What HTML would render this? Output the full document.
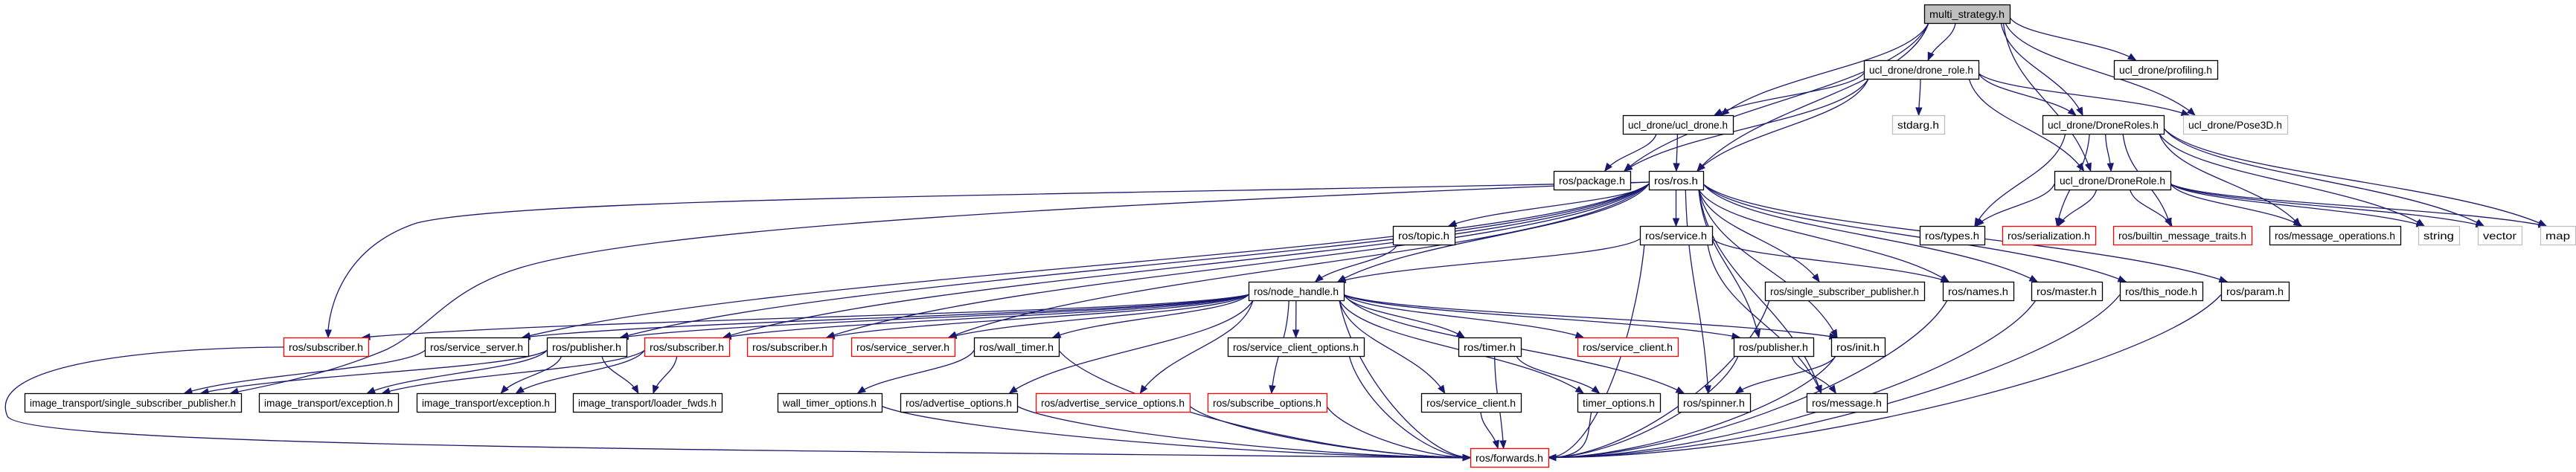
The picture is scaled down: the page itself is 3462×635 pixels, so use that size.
<!DOCTYPE html>
<html><head><meta charset="utf-8"><style>
html,body{margin:0;padding:0;background:#fff;width:3462px;height:635px;overflow:hidden}
svg{display:block}
text{font-family:"Liberation Sans",sans-serif;font-size:14px;fill:#000}
</style></head><body>
<svg id="g" width="3462" height="635" xmlns="http://www.w3.org/2000/svg"></svg>
<script>
var N={
ms:["multi_strategy.h",2586,2701,6,"m"],
dr:["ucl_drone/drone_role.h",2505,2659,81],
prof:["ucl_drone/profiling.h",2841,2980,81],
ud:["ucl_drone/ucl_drone.h",2181,2329,155],
stdarg:["stdarg.h",2543,2613,155,"g"],
drs:["ucl_drone/DroneRoles.h",2745,2908,155],
pose:["ucl_drone/Pose3D.h",2934,3074,155,"g"],
pkg:["ros/package.h",2088,2191,230],
ros:["ros/ros.h",2216,2289,230],
drl:["ucl_drone/DroneRole.h",2761,2917,230],
topic:["ros/topic.h",1872,1955,304],
service:["ros/service.h",2204,2301,304],
types:["ros/types.h",2580,2667,304],
ser:["ros/serialization.h",2691,2816,304,"r"],
bmt:["ros/builtin_message_traits.h",2840,3026,304,"r"],
mop:["ros/message_operations.h",3050,3226,304],
string:["string",3250,3305,304,"g"],
vector:["vector",3330,3389,304,"g"],
map:["map",3414,3461,304,"g"],
nh:["ros/node_handle.h",1678,1806,379],
ssp:["ros/single_subscriber_publisher.h",2372,2586,379],
names:["ros/names.h",2611,2706,379],
master:["ros/master.h",2730,2825,379],
thisn:["ros/this_node.h",2849,2960,379],
param:["ros/param.h",2985,3076,379],
sub1:["ros/subscriber.h",381,495,454,"r"],
ss1:["ros/service_server.h",571,710,454],
pub1:["ros/publisher.h",735,842,454],
sub2:["ros/subscriber.h",866,980,454,"r"],
sub3:["ros/subscriber.h",1004,1119,454,"r"],
ss2:["ros/service_server.h",1144,1283,454,"r"],
wt:["ros/wall_timer.h",1309,1423,454],
sco:["ros/service_client_options.h",1650,1833,454],
timer:["ros/timer.h",1960,2044,454],
sc2:["ros/service_client.h",2120,2255,454,"r"],
pub2:["ros/publisher.h",2330,2437,454],
init:["ros/init.h",2461,2533,454],
itssp:["image_transport/single_subscriber_publisher.h",33,324,529],
ex1:["image_transport/exception.h",348,535,529],
ex2:["image_transport/exception.h",560,746,529],
lf:["image_transport/loader_fwds.h",770,970,529],
wto:["wall_timer_options.h",1045,1185,529],
ao:["ros/advertise_options.h",1210,1367,529],
aso:["ros/advertise_service_options.h",1392,1599,529,"r"],
so:["ros/subscribe_options.h",1623,1783,529,"r"],
sc1:["ros/service_client.h",1910,2044,529],
to:["timer_options.h",2120,2231,529],
spin:["ros/spinner.h",2255,2352,529],
msg:["ros/message.h",2428,2536,529],
fw:["ros/forwards.h",1976,2081,603,"r"]
};
var E=[
["ms","pkg"],["ms","ud"],["ms","ros"],["ms","dr"],["ms","drs"],["ms","drl"],["ms","pose"],["ms","prof"],
["dr","ud"],["dr","pkg"],["dr","ros"],["dr","stdarg"],["dr","drs"],["dr","pose"],["dr","drl"],
["ud","pkg"],["ud","ros"],
["drs","drl"],["drs","types"],["drs","ser"],["drs","bmt"],["drs","mop"],["drs","string"],["drs","vector"],["drs","map"],
["drl","types"],["drl","ser"],["drl","bmt"],["drl","mop"],["drl","string"],["drl","vector"],["drl","map"],
["ros","sub1"],["ros","ss1"],["ros","pub1"],["ros","sub2"],["ros","sub3"],["ros","ss2"],["ros","itssp"],["ros","topic"],["ros","nh"],["ros","service"],
["ros","ssp"],["ros","names"],["ros","master"],["ros","thisn"],["ros","param"],["ros","pub2"],["ros","init"],["ros","spin"],["ros","msg"],
["topic","nh"],["service","nh"],["service","names"],["service","msg"],["service","fw"],
["nh","sub1"],["nh","ss1"],["nh","pub1"],["nh","sub2"],["nh","sub3"],["nh","ss2"],["nh","wt"],["nh","ao"],["nh","aso"],["nh","so"],["nh","sco"],
["nh","timer"],["nh","sc1"],["nh","sc2"],["nh","to"],["nh","pub2"],["nh","init"],["nh","spin"],["nh","fw"],
["sub1","fw"],["ss1","itssp"],["pub1","itssp"],["pub1","ex1"],["pub1","ex2"],["pub1","lf"],["sub2","ex1"],["sub2","ex2"],["sub2","lf"],
["wt","wto"],["wt","fw"],["wto","fw"],["ao","fw"],["aso","fw"],["so","fw"],["sco","fw"],
["timer","to"],["timer","fw"],["sc1","fw"],["to","fw"],["pub2","msg"],["pub2","fw"],["init","spin"],["init","fw"],
["ssp","fw"],["names","fw"],["master","fw"],["thisn","fw"],["param","fw"]
];
var s='';
var H=25;
function cx(n){return (n[1]+n[2])/2}
E.forEach(function(e){
 var a=N[e[0]],b=N[e[1]];
 var x2=cx(b),y2=b[3];
 var y1=a[3]+H;
 var ddx=x2-cx(a), ddy=y2-y1;
 var x1;
 if(Math.abs(ddx)>4*ddy){ // leave from side
   x1= ddx<0? a[1] : a[2]; y1=a[3]+H*0.7;
 } else {
   x1=cx(a)+ddx*0.25; x1=Math.max(a[1]+6,Math.min(a[2]-6,x1));
 }
 if(e[1]=="fw"){
   if(Math.abs(cx(a)-cx(b))<100){x2=cx(b)+(cx(a)-cx(b))*0.3;y2=b[3];}
   else {y2=b[3]+H/2; x2 = cx(a)<cx(b)? b[1] : b[2];}
 } else {
   x2=cx(b)+(cx(a)-cx(b))*0.15; x2=Math.max(b[1]+8,Math.min(b[2]-8,x2));
 }
 var dy=y2-y1;
 var c1x=x1+(x2-x1)*0.1,c1y=y1+dy*0.45,c2x=x2-(x2-x1)*0.25,c2y=y2-dy*0.45;
 if(y2==b[3]+H/2){c2x=x2+(cx(a)<x2?-Math.max(60,Math.abs(x2-x1)*0.35):Math.max(60,Math.abs(x2-x1)*0.35));c2y=y2;}
 if(e[0]=="sub1"&&e[1]=="fw"){
   s+='<path d="M381,467 C200,468 -20,490 10,560 C30,600 900,605 1966,616" fill="none" stroke="#191970" stroke-width="1.3"/>';
   c2x=1940;c2y=615;x2=b[1];y2=616;
 } else if(e[0]=="ros"&&e[1]=="sub1"){
   s+='<path d="M2216,245 C1500,262 700,265 560,300 C470,330 445,400 441,444" fill="none" stroke="#191970" stroke-width="1.3"/>';
   c2x=442;c2y=420;x2=441;y2=454;
 } else if(e[0]=="ros"&&e[1]=="itssp"){
   s+='<path d="M2216,245 C1600,270 900,300 700,360 C600,390 580,440 520,470 C450,500 380,515 310,529" fill="none" stroke="#191970" stroke-width="1.3"/>';
   c2x=360;c2y=515;x2=310;y2=529;
 }
 else s+='<path d="M'+x1+','+y1+' C'+c1x+','+c1y+' '+c2x+','+c2y+' '+x2+','+y2+'" fill="none" stroke="#191970" stroke-width="1.3"/>';
 var dx=x2-c2x,dyy=y2-c2y,L=Math.sqrt(dx*dx+dyy*dyy)||1;dx/=L;dyy/=L;
 var bx=x2-dx*10,by=y2-dyy*10,px=-dyy*4,py=dx*4;
 s+='<polygon points="'+x2+','+y2+' '+(bx+px)+','+(by+py)+' '+(bx-px)+','+(by-py)+'" fill="#191970" stroke="#191970"/>';
});
for(var k in N){var n=N[k];var w=n[2]-n[1];
 var st=n[4]=="r"?'stroke="#ff0000"':n[4]=="g"?'stroke="#bfbfbf"':'stroke="#000"';
 var fill=n[4]=="m"?'#bfbfbf':'#fff';
 s+='<rect x="'+(n[1]+0.5)+'" y="'+(n[3]+0.5)+'" width="'+w+'" height="'+H+'" fill="'+fill+'" '+st+' stroke-width="1.3"/>';
 var tl=w-14;
 s+='<text x="'+((n[1]+n[2])/2)+'" y="'+(n[3]+18)+'" text-anchor="middle" textLength="'+tl+'" lengthAdjust="spacingAndGlyphs">'+n[0]+'</text>';
}
document.getElementById('g').innerHTML=s;
</script>
</body></html>
